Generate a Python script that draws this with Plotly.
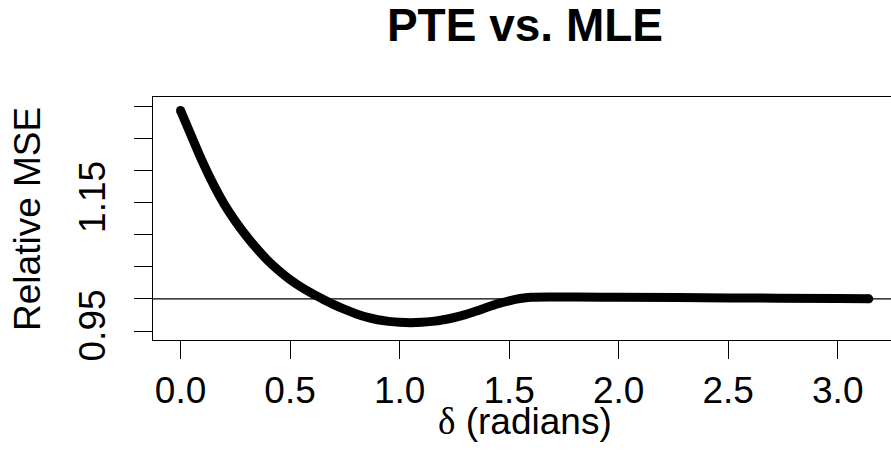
import plotly.graph_objects as go

# Relative MSE of the preliminary test estimator against the MLE, as a function of delta
delta = [0.00, 0.05, 0.10, 0.15, 0.20, 0.25, 0.30, 0.35, 0.40, 0.45,
         0.50, 0.55, 0.60, 0.65, 0.70, 0.75, 0.80, 0.85, 0.90, 0.95,
         1.00, 1.05, 1.10, 1.15, 1.20, 1.25, 1.30, 1.35, 1.40, 1.45,
         1.50, 1.55, 1.60, 1.70, 1.80, 2.00, 2.50, 3.00, 3.1416]
rel_mse = [1.293, 1.253, 1.2135, 1.178, 1.147, 1.121, 1.098, 1.0775, 1.059, 1.0435,
           1.030, 1.0185, 1.0085, 0.9995, 0.991, 0.9835, 0.977, 0.9715, 0.9675, 0.965,
           0.9635, 0.963, 0.9635, 0.965, 0.9675, 0.971, 0.9755, 0.981, 0.987, 0.9925,
           0.997, 1.0005, 1.0025, 1.003, 1.003, 1.0025, 1.0015, 1.0005, 1.000]

reference_level = 1.0

x_tickvals = [0.0, 0.5, 1.0, 1.5, 2.0, 2.5, 3.0]
x_ticktext = ["0.0", "0.5", "1.0", "1.5", "2.0", "2.5", "3.0"]
y_tickvals = [0.95, 1.00, 1.05, 1.10, 1.15, 1.20, 1.25, 1.30]
y_ticktext = ["0.95", "", "", "", "1.15", "", "", ""]

FONT = "Liberation Sans, Arial, Helvetica, sans-serif"

fig = go.Figure()
fig.add_trace(go.Scatter(
    x=delta, y=rel_mse, mode="lines",
    line=dict(color="black", width=9, shape="spline", smoothing=0.8, simplify=False),
    hoverinfo="skip", showlegend=False,
))
# round the two ends of the thick curve
fig.add_trace(go.Scatter(
    x=[delta[0], delta[-1]], y=[rel_mse[0], rel_mse[-1]], mode="markers",
    marker=dict(color="black", size=9, line=dict(width=0)),
    hoverinfo="skip", showlegend=False,
))

fig.add_shape(type="line", xref="paper", x0=0, x1=1, yref="y",
              y0=reference_level, y1=reference_level,
              line=dict(color="black", width=1.2))

# axis titles placed as annotations relative to the plotting region
fig.add_annotation(text="<span style='font-family:Liberation Serif'>δ</span> (radians)",
                   xref="paper", yref="paper", x=0.504, y=-0.337,
                   xanchor="center", yanchor="middle", showarrow=False,
                   font=dict(family=FONT, size=37, color="black"))
fig.add_annotation(text="Relative MSE", textangle=-90,
                   xref="paper", yref="paper", x=-0.1694, y=0.498,
                   xanchor="center", yanchor="middle", showarrow=False,
                   font=dict(family=FONT, size=37, color="black"))

fig.update_layout(
    width=891, height=475,
    margin=dict(l=153, r=0, t=97, b=135, pad=0),
    paper_bgcolor="white", plot_bgcolor="white",
    font=dict(family=FONT, color="black", size=37),
    title=dict(text="<b>PTE vs. MLE</b>", x=0.504, xref="paper", xanchor="center",
               y=1 - 25 / 475, yref="container", yanchor="middle",
               font=dict(family=FONT, size=46, color="black")),
    xaxis=dict(
        range=[-0.1257, 3.243], tickmode="array",
        tickvals=x_tickvals, ticktext=x_ticktext,
        ticks="outside", ticklen=18, tickwidth=1, tickcolor="black",
        showline=True, linecolor="black", linewidth=1, mirror=True,
        showgrid=False, zeroline=False,
        tickfont=dict(family=FONT, size=37, color="black"),
    ),
    yaxis=dict(
        range=[0.936, 1.314], tickmode="array",
        tickvals=y_tickvals, ticktext=y_ticktext, tickangle=-90,
        ticks="outside", ticklen=18, tickwidth=1, tickcolor="black",
        ticklabelstandoff=14,
        showline=True, linecolor="black", linewidth=1, mirror=False,
        showgrid=False, zeroline=False,
        tickfont=dict(family=FONT, size=37, color="black"),
    ),
)

fig.write_html("out.html")
